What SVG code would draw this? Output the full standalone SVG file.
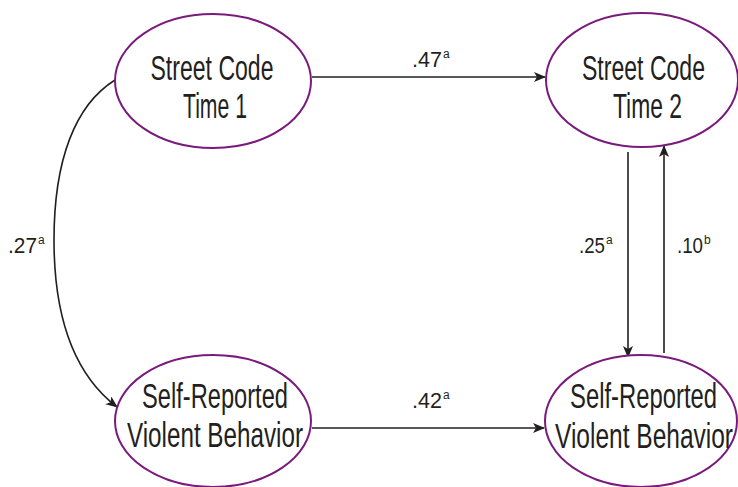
<svg xmlns="http://www.w3.org/2000/svg" width="738" height="487" viewBox="0 0 738 487">
<style>
.node ellipse{fill:#fff;stroke:#7a1a7d;stroke-width:2}
.lbl{font-family:"Liberation Sans Narrow","Liberation Sans",Arial,sans-serif;font-size:35px;fill:#231f20;text-anchor:middle}
.num{font-family:"Liberation Sans Narrow","Liberation Sans",Arial,sans-serif;font-size:22px;fill:#231f20}
.sup{font-size:12px}
.edges path{fill:none;stroke:#231f20;stroke-width:1.6}
</style>
<defs>
<marker id="ah" viewBox="0 0 12 10" refX="11" refY="5" markerWidth="12" markerHeight="10" markerUnits="userSpaceOnUse" orient="auto">
<path d="M0,0 L12,5 L0,10 L3,5 z" fill="#231f20"/>
</marker>
</defs>
<rect width="738" height="487" fill="#fff"/>
<g class="edges">
<path d="M312,77 L545,77" marker-end="url(#ah)"/>
<path d="M312,428 L544,428" marker-end="url(#ah)"/>
<path d="M628,152 L628,357" marker-end="url(#ah)"/>
<path d="M664,353 L664,146" marker-end="url(#ah)"/>
<path d="M115,80 C75,105 54,160 54,240 C54,320 75,375 117,407" marker-end="url(#ah)"/>
</g>
<g id="sc1" class="node">
<ellipse cx="213" cy="81" rx="98" ry="67"/>
<text class="lbl" x="212" y="80" textLength="123" lengthAdjust="spacingAndGlyphs">Street Code</text>
<text class="lbl" x="215" y="118" textLength="64" lengthAdjust="spacingAndGlyphs">Time 1</text>
</g>
<g id="sc2" class="node">
<ellipse cx="642" cy="80" rx="96" ry="67"/>
<text class="lbl" x="643.5" y="80" textLength="123" lengthAdjust="spacingAndGlyphs">Street Code</text>
<text class="lbl" x="647.5" y="118" textLength="69" lengthAdjust="spacingAndGlyphs">Time 2</text>
</g>
<g id="vb1" class="node">
<ellipse cx="213" cy="421" rx="98" ry="66"/>
<text class="lbl" x="215" y="408" textLength="146" lengthAdjust="spacingAndGlyphs">Self-Reported</text>
<text class="lbl" x="215" y="447" textLength="176" lengthAdjust="spacingAndGlyphs">Violent Behavior</text>
</g>
<g id="vb2" class="node">
<ellipse cx="641" cy="421" rx="96" ry="66"/>
<text class="lbl" x="643.5" y="408" textLength="147" lengthAdjust="spacingAndGlyphs">Self-Reported</text>
<text class="lbl" x="644" y="448" textLength="178" lengthAdjust="spacingAndGlyphs">Violent Behavior</text>
</g>
<g id="labels">
<text class="num" x="412" y="67"><tspan textLength="30" lengthAdjust="spacingAndGlyphs">.47</tspan><tspan class="sup" dx="1" dy="-9">a</tspan></text>
<text class="num" x="412" y="408"><tspan textLength="30" lengthAdjust="spacingAndGlyphs">.42</tspan><tspan class="sup" dx="1" dy="-9">a</tspan></text>
<text class="num" x="8" y="253"><tspan textLength="29" lengthAdjust="spacingAndGlyphs">.27</tspan><tspan class="sup" dx="1" dy="-9">a</tspan></text>
<text class="num" x="579" y="253"><tspan textLength="26" lengthAdjust="spacingAndGlyphs">.25</tspan><tspan class="sup" dx="1" dy="-9">a</tspan></text>
<text class="num" x="677" y="253"><tspan textLength="26" lengthAdjust="spacingAndGlyphs">.10</tspan><tspan class="sup" dx="1" dy="-9">b</tspan></text>
</g>
</svg>
